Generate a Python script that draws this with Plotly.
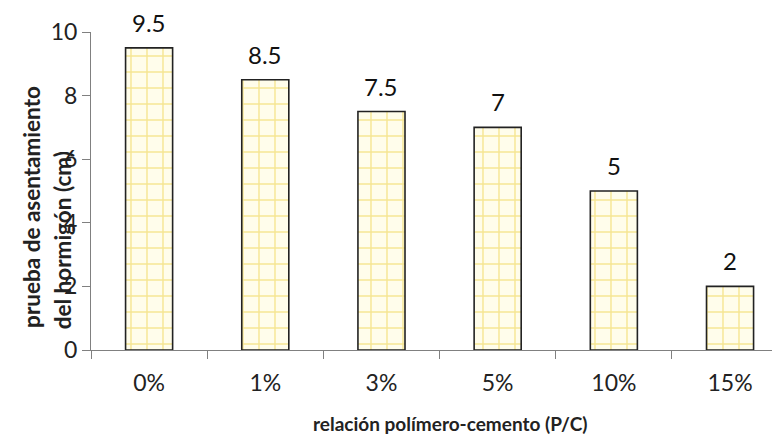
import plotly.graph_objects as go

categories = ["0%", "1%", "3%", "5%", "10%", "15%"]
values = [9.5, 8.5, 7.5, 7, 5, 2]
value_labels = ["9.5", "8.5", "7.5", "7", "5", "2"]
y_ticks = [0, 2, 4, 6, 8, 10]

FONT = "Lato, 'Open Sans', sans-serif"
INK = "#222222"

fig = go.Figure(go.Bar(
    x=categories, y=values, width=0.405,
    marker=dict(
        color="#FFFDEB",
        line=dict(color=INK, width=1.6),
        pattern=dict(shape="+", fgcolor="#EDCF3C", bgcolor="#FFFDEB", size=16, solidity=0.17),
    ),
))

annotations = [
    dict(x=c, y=v, text=t, xref="x", yref="y", yanchor="bottom", yshift=9,
         showarrow=False, font=dict(family=FONT, size=24, color="#111111"))
    for c, v, t in zip(categories, values, value_labels)
]
annotations += [
    dict(text="<b>prueba de asentamiento</b>", textangle=-90, xref="paper", yref="paper",
         x=0, y=0.45, xshift=-59, xanchor="center", yanchor="middle", showarrow=False,
         font=dict(family=FONT, size=22.5, color=INK)),
    dict(text="<b>del hormigón (cm)</b>", textangle=-90, xref="paper", yref="paper",
         x=0, y=0.345, xshift=-29, xanchor="center", yanchor="middle", showarrow=False,
         font=dict(family=FONT, size=22.5, color=INK)),
    dict(text="<b>relación polímero-cemento (P/C)</b>", xref="paper", yref="paper",
         x=0.5, y=0, xshift=15, yshift=-73, xanchor="center", yanchor="middle", showarrow=False,
         font=dict(family=FONT, size=19, color=INK)),
]

fig.update_layout(
    width=772, height=431,
    margin=dict(l=83, r=0, t=24, b=89, autoexpand=False),
    plot_bgcolor="white", paper_bgcolor="white",
    showlegend=False,
    font=dict(family=FONT, size=20, color=INK),
    xaxis=dict(
        range=[-0.5, 5.43], showline=True, linecolor="#808080", linewidth=1,
        ticks="outside", tickson="boundaries", ticklen=8, tickcolor="#808080",
        tickfont=dict(family=FONT, size=23, color=INK), showgrid=False,
        automargin=False, ticklabelstandoff=12,
    ),
    yaxis=dict(
        range=[0, 10], tickvals=y_ticks, showline=True, linecolor="#808080", linewidth=1,
        ticks="outside", ticklen=8, tickcolor="#808080", showgrid=False, zeroline=False,
        automargin=False,
        tickfont=dict(family=FONT, size=23, color=INK),
    ),
    annotations=annotations,
)

fig.write_html("out.html")
